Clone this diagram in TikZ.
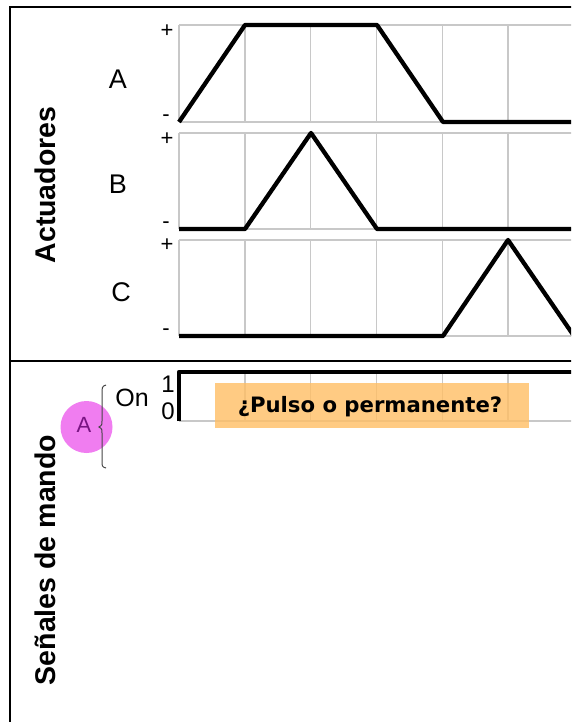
\documentclass[tikz,border=0pt]{standalone}
\usepackage{fontspec}
\setmainfont{Liberation Sans}
\newfontfamily\boxfont{DejaVu Sans}
\definecolor{gridgray}{RGB}{200,200,200}
\definecolor{circmag}{RGB}{240,125,240}
\definecolor{apurple}{RGB}{120,20,130}
\definecolor{bracegray}{RGB}{70,70,70}
\definecolor{boxorange}{RGB}{255,190,100}
\begin{document}
\begin{tikzpicture}[x=1pt,y=-1pt,
  gridline/.style={draw=gridgray,line width=1.4pt},
  signal/.style={draw=black,line width=4.3pt,line join=round},
  frameline/.style={draw=black,line width=2pt},
  axlabel/.style={font=\fontsize{22}{24}\selectfont,inner sep=0pt},
  actlabel/.style={font=\fontsize{27}{29}\selectfont,inner sep=0pt},
  title/.style={font=\fontsize{28.5}{30}\selectfont\bfseries,rotate=90,inner sep=0pt}]
\useasboundingbox (0,0) rectangle (571,722);
\clip (0,0) rectangle (571,722);
\fill[white] (0,0) rectangle (571,722);
% frame
\draw[frameline] (10,730) -- (10,7) -- (580,7);
\draw[frameline] (10,361) -- (580,361);
% grids
\foreach \t/\b in {25/122,133/229,240/336,372/421}{
  \draw[gridline] (179,\t) -- (580,\t);
  \draw[gridline] (179,\b) -- (580,\b);
  \foreach \k in {0,...,5}{
    \draw[gridline] ({179+\k*65.8},\t) -- ({179+\k*65.8},\b);
  }
}
% actuator curves
\draw[signal] (179,122) -- (245,25) -- (377,25) -- (443,122) -- (580,122);
\draw[signal] (179,229) -- (245,229) -- (311,133) -- (377,229) -- (580,229);
\draw[signal] (179,336) -- (443,336) -- (508,240) -- (574,336);
% labels
\node[axlabel] (pa) at (167,31) {+};
\node[axlabel] (ma) at (166,118) {-};
\node[axlabel] (pb) at (167,139) {+};
\node[axlabel] (mb) at (166,225) {-};
\node[axlabel] (pc) at (167,245) {+};
\node[axlabel] (mc) at (166,332) {-};
\node[actlabel] (la) at (118,79) {A};
\node[actlabel] (lb) at (118,184) {B};
\node[actlabel] (lc) at (121,292) {C};
\node[title] (tact) at (45,185) {Actuadores};
\node[title] (tsen) at (45,560) {Señales de mando};
% command signal
\fill[circmag] (86.5,427) circle (26);
\node[font=\fontsize{22}{24}\selectfont,text=apurple,inner sep=0pt] (ca) at (84,425) {A};
\draw[bracegray,line width=1pt] (106,385) .. controls (102,386) and (102,388) .. (102,393) -- (102,421) .. controls (102,425) .. (99,427) .. controls (102,429) .. (102,433) -- (102,461) .. controls (102,466) and (102,467) .. (106,468);
\node[font=\fontsize{25}{27}\selectfont,inner sep=0pt] (on) at (132,398) {On};
\node[font=\fontsize{24}{26}\selectfont,inner sep=0pt] (one) at (168,384) {1};
\node[font=\fontsize{24}{26}\selectfont,inner sep=0pt] (zero) at (168,411) {0};
\draw[signal] (179,421) -- (179,372) -- (580,372);
\fill[boxorange,opacity=0.8] (215,383) rectangle (529,428);
\node[font=\boxfont\bfseries\fontsize{21.2}{23}\selectfont,inner sep=0pt] (q) at (370,407) {¿Pulso o permanente?};
\end{tikzpicture}
\end{document}
